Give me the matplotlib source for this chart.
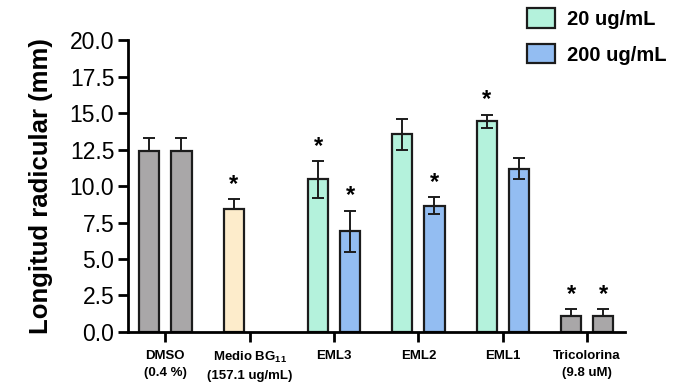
import matplotlib.pyplot as plt
import numpy as np
from matplotlib.patches import Patch

plt.rcParams['font.family'] = ['Liberation Sans', 'DejaVu Sans']
plt.rcParams['mathtext.fontset'] = 'custom'
plt.rcParams['mathtext.bf'] = 'Liberation Sans:bold'
plt.rcParams['mathtext.rm'] = 'Liberation Sans'

# data
groups = ["DMSO\n(0.4 %)", "Medio BG$_\\mathbf{11}$\n(157.1 ug/mL)", "EML3", "EML2", "EML1",
          "Tricolorina\n(9.8 uM)"]
# left bar of each group (control / 20 ug/mL), right bar (control / 200 ug/mL)
left_vals = [12.4, 8.45, 10.45, 13.55, 14.45, 1.1]
left_err = [0.9, 0.65, 1.25, 1.05, 0.45, 0.45]
left_star = [False, True, True, False, True, True]
right_vals = [12.4, None, 6.9, 8.65, 11.2, 1.1]
right_err = [0.9, None, 1.4, 0.57, 0.73, 0.45]
right_star = [False, False, True, True, False, True]

left_colors = ['#a9a7a8', '#fdeccb', '#b4f2dc', '#b4f2dc', '#b4f2dc', '#a9a7a8']
right_colors = ['#a9a7a8', None, '#93bdf2', '#93bdf2', '#93bdf2', '#a9a7a8']
# error bars hidden inside the darker / control bars
lower_hidden = [True, True, False, False, False, True]

fig = plt.figure(figsize=(6.75, 3.86), dpi=100)
ax = fig.add_axes([0.19, 0.14, 0.736, 0.756])

x = np.arange(len(groups))
off = 0.19
w = 0.24

def draw(xpos, val, err, color, star, hide_low):
    ax.bar(xpos, val, width=w, color=color, edgecolor='#1c1c1c', linewidth=1.6, zorder=2)
    low = 0 if hide_low else err
    ax.errorbar(xpos, val, yerr=[[low], [err]], fmt='none', ecolor='#1c1c1c',
                elinewidth=1.4, capsize=4, capthick=1.4, zorder=3)
    if star:
        ax.text(xpos, val + err + 0.25, '*', ha='center', va='bottom',
                fontsize=17, fontweight='bold')

for i in range(len(groups)):
    draw(x[i] - off, left_vals[i], left_err[i], left_colors[i], left_star[i], lower_hidden[i])
    if right_vals[i] is not None:
        draw(x[i] + off, right_vals[i], right_err[i], right_colors[i], right_star[i], lower_hidden[i])

ax.set_xlim(-0.44, 5.45)
ax.set_ylim(0, 20)
ax.set_yticks(np.arange(0, 20.1, 2.5))
ax.set_yticklabels(['%.1f' % v for v in np.arange(0, 20.1, 2.5)], fontsize=16.5)
ax.set_xticks(x)
ax.set_xticklabels(groups, fontsize=9.5, fontweight='bold', linespacing=1.5)
ax.set_ylabel('Longitud radicular (mm)', fontsize=18.5, fontweight='bold', labelpad=12)

for s in ['top', 'right']:
    ax.spines[s].set_visible(False)
for s in ['left', 'bottom']:
    ax.spines[s].set_linewidth(2)
ax.tick_params(axis='both', width=2, length=7, pad=3)
ax.tick_params(axis='x', pad=6)

handles = [Patch(facecolor='#b4f2dc', edgecolor='#1c1c1c', linewidth=1.6, label='20 ug/mL'),
           Patch(facecolor='#93bdf2', edgecolor='#1c1c1c', linewidth=1.6, label='200 ug/mL')]
fig.legend(handles=handles, loc='upper right', bbox_to_anchor=(1.015, 1.025), frameon=False,
           prop={'weight': 'bold', 'size': 14.5}, handlelength=1.4, handleheight=1.1,
           labelspacing=0.75, handletextpad=0.6)

fig.savefig('out.png', dpi=100)
